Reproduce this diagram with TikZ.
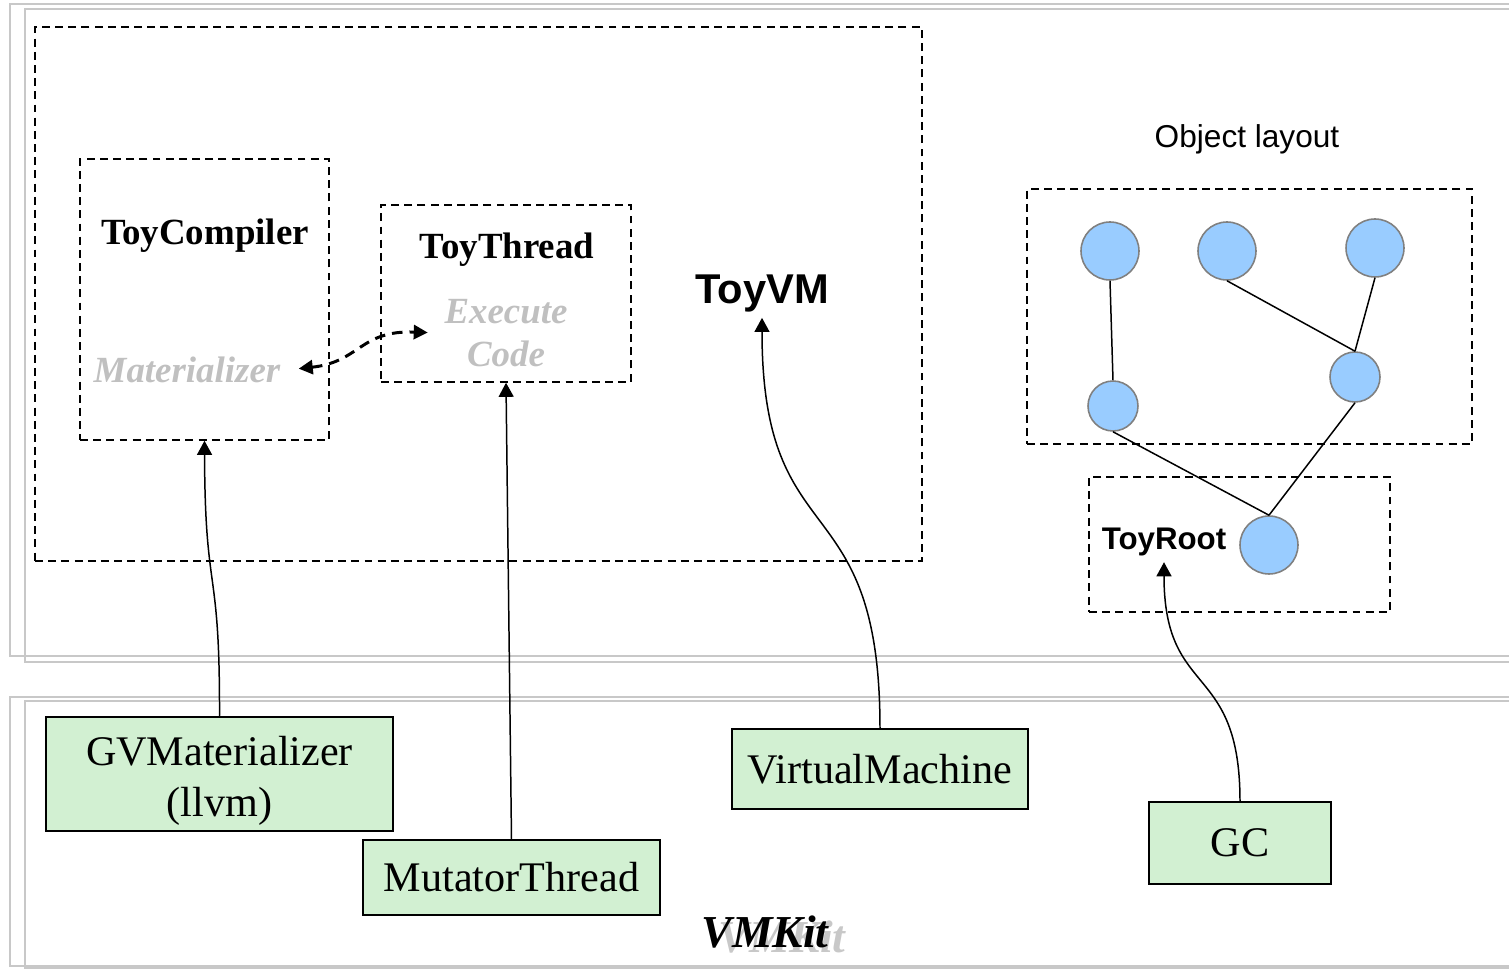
\documentclass[tikz,border=0pt]{standalone}
\usepackage{fontspec}
\setmainfont{Liberation Serif}
\setsansfont{Liberation Sans}
\usetikzlibrary{arrows.meta}
\definecolor{panelgray}{HTML}{C8C8C8}
\definecolor{ballblue}{HTML}{99CCFF}
\definecolor{ballrim}{HTML}{808080}
\definecolor{boxgreen}{HTML}{D2F0D2}
\definecolor{ghost}{HTML}{C0C0C0}
\newcommand{\fsz}[2]{\fontsize{#1}{#2}\selectfont}
\tikzset{
  dbox/.style={draw, line width=0.9pt, dash pattern=on 4.5pt off 3pt, inner sep=0pt},
  gbox/.style={draw, fill=boxgreen, line width=0.9pt, inner sep=0pt, font=\fsz{24}{29}},
  ball/.style={circle, draw=ballrim, fill=ballblue, line width=0.9pt, inner sep=0pt},
  panel/.style={draw=panelgray, line width=1.2pt},
  link/.style={line width=0.85pt},
  >={Triangle[length=8pt,width=8.5pt]}
}

\begin{document}
\begin{tikzpicture}[x=0.02cm, y=-0.02cm]
  \useasboundingbox (0,0) rectangle (1509,969);
  % panels
  \draw[panel] (10,4) rectangle (1530,656);
  \draw[panel] (25,9) rectangle (1530,662);
  \draw[panel] (10,697) rectangle (1530,966);
  \draw[panel] (25,701) rectangle (1530,968);
  % dashed frames
  \node[dbox, minimum width=17.74cm, minimum height=10.68cm] (vmbox) at (478.5,294) {};
  \node[dbox, minimum width=4.98cm, minimum height=5.62cm] (tcbox) at (204.5,299.5) {};
  \node[dbox, minimum width=5cm, minimum height=3.54cm] (ttbox) at (506,293.5) {};
  \node[dbox, minimum width=8.9cm, minimum height=5.1cm] (layoutbox) at (1249.5,316.5) {};
  \node[dbox, minimum width=6.02cm, minimum height=2.7cm] (rootbox) at (1239.5,544.5) {};
  % labels
  \node[font=\fsz{21}{25}\bfseries] (tclabel) at (205,236) {ToyCompiler};
  \node[font=\fsz{21}{25}\bfseries\itshape, text=ghost] (mat) at (187,370) {Materializer};
  \node[font=\fsz{21}{25}\bfseries] (ttlabel) at (507,250) {ToyThread};
  \node[font=\fsz{21}{24.5}\bfseries\itshape, text=ghost, align=center] (exec) at (506,333) {Execute\\Code};
  \node[font=\sffamily\bfseries\fsz{23.7}{28}] (toyvm) at (762,293) {ToyVM};
  \node[font=\sffamily\fsz{18}{22}] (layout) at (1247,139) {Object layout};
  \node[font=\sffamily\bfseries\fsz{17.8}{21}] (rootlabel) at (1164,542) {ToyRoot};
  % object graph
  \node[ball, minimum size=1.16cm] (b1) at (1110,251) {};
  \node[ball, minimum size=1.16cm] (b2) at (1227,251) {};
  \node[ball, minimum size=1.16cm] (b3) at (1375,248) {};
  \node[ball, minimum size=1cm] (b4) at (1113,406) {};
  \node[ball, minimum size=1cm] (b5) at (1355,377) {};
  \node[ball, minimum size=1.16cm] (root) at (1269,545) {};
  \draw[link] (b1.south) -- (b4.north);
  \draw[link] (b2.south) -- (b5.north);
  \draw[link] (b3.south) -- (b5.north);
  \draw[link] (b4.south) -- (root.north);
  \draw[link] (b5.south) -- (root.north);
  % VMKit classes
  \node[gbox, minimum width=6.94cm, minimum height=2.28cm, align=center] (gvm) at (219.5,774) {\rule{0pt}{24pt}GVMaterializer\\(llvm)};
  \node[gbox, minimum width=5.94cm, minimum height=1.5cm] (mt) at (511.5,877.5) {MutatorThread};
  \node[gbox, minimum width=5.92cm, minimum height=1.6cm] (vm) at (880,769) {VirtualMachine};
  \node[gbox, minimum width=3.64cm, minimum height=1.64cm] (gc) at (1240,843) {GC};
  % connectors
  \draw[link, ->] (gvm.north) .. controls (220,560) and (205,600) .. (tcbox.south);
  \draw[link, ->] (mt.north) -- (ttbox.south);
  \draw[link, ->] (vm.north) .. controls (880,480) and (762,560) .. (toyvm.south);
  \draw[link, ->] (gc.north) .. controls (1240,660) and (1164,700) .. (rootlabel.south);
  \draw[<->, >={Triangle[length=8pt,width=8pt]}, line width=1.7pt, dash pattern=on 6pt off 4pt,
    shorten <=7pt, shorten >=6pt]
    (mat.east) .. controls (360,362) and (360,330) .. (exec.west);
  % title
  \node[font=\fsz{26}{30}\bfseries\itshape, text=panelgray] (vmkitshadow) at (782,937) {VMKit};
  \node[font=\fsz{26}{30}\bfseries\itshape] (vmkit) at (765,932) {VMKit};
\end{tikzpicture}
\end{document}
